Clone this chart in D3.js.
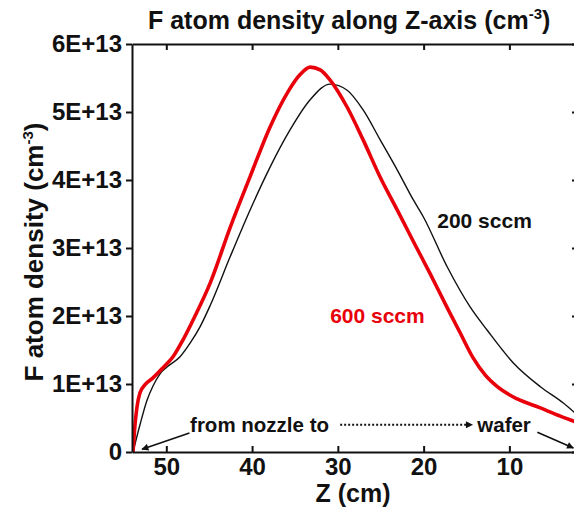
<!DOCTYPE html>
<html>
<head>
<meta charset="utf-8">
<script src="https://cdn.jsdelivr.net/npm/d3@7"></script>
<style>
  html, body { margin: 0; padding: 0; background: #fff; }
  svg { display: block; font-family: "Liberation Sans", Arial, sans-serif; }
</style>
</head>
<body>
<div id="chart"></div>
<script>
// z position (cm) and F atom density (1E+13 cm^-3)
const z200 = [53.88, 53.07, 52.25, 51.55, 50.73, 49.92, 48.40, 47.23, 46.07, 44.90, 42.56, 40.23, 37.90, 35.56, 33.23, 30.90, 28.91, 27.05, 25.06, 23.08, 21.21, 20.04, 17.24, 14.56, 12.58, 9.54, 6.39, 3.71, 1.96];
const n200 = [0, 0.40, 0.76, 0.97, 1.15, 1.25, 1.40, 1.60, 1.84, 2.15, 2.87, 3.56, 4.19, 4.74, 5.18, 5.41, 5.32, 5.03, 4.59, 4.15, 3.71, 3.46, 2.72, 2.13, 1.79, 1.31, 0.96, 0.72, 0.53];

const z600 = [53.88, 53.65, 53.42, 53.07, 52.48, 51.55, 50.38, 49.22, 48.05, 46.65, 44.90, 42.56, 40.23, 37.90, 35.80, 34.40, 33.23, 32.06, 30.90, 28.91, 27.05, 25.06, 23.08, 21.21, 19.23, 17.24, 15.73, 14.21, 12.81, 11.41, 9.08, 6.39, 3.71, 1.96];
const n600 = [0, 0.40, 0.66, 0.87, 0.99, 1.09, 1.24, 1.40, 1.65, 2.00, 2.48, 3.30, 4.05, 4.78, 5.30, 5.55, 5.66, 5.62, 5.47, 5.07, 4.59, 4.04, 3.56, 3.10, 2.62, 2.12, 1.75, 1.38, 1.13, 0.96, 0.78, 0.65, 0.51, 0.43];

const xTicks = [50, 40, 30, 20, 10];
const yTicks = [0, 1, 2, 3, 4, 5, 6];
const yTickLabels = ["0", "1E+13", "2E+13", "3E+13", "4E+13", "5E+13", "6E+13"];

const width = 574;
const height = 508;
const margin = { top: 44, right: -4, bottom: 56, left: 132 };

const svg = d3
  .select("#chart")
  .append("svg")
  .attr("width", width)
  .attr("height", height);

const x = d3.scaleLinear().domain([54, 2]).range([margin.left, width - margin.right]);
const y = d3.scaleLinear().domain([0, 6]).range([height - margin.bottom, margin.top]);

const defs = svg.append("defs");
defs
  .append("clipPath")
  .attr("id", "plot-clip")
  .append("rect")
  .attr("x", margin.left)
  .attr("y", margin.top)
  .attr("width", width - margin.right - margin.left)
  .attr("height", height - margin.bottom - margin.top);

defs
  .append("marker")
  .attr("id", "head")
  .attr("viewBox", "0 0 10 10")
  .attr("refX", 9)
  .attr("refY", 5)
  .attr("markerWidth", 10)
  .attr("markerHeight", 7)
  .attr("markerUnits", "userSpaceOnUse")
  .attr("orient", "auto")
  .append("path")
  .attr("d", "M0,0L10,5L0,10z")
  .attr("fill", "#111");

// curves
const line = d3
  .line()
  .x((d) => x(d[0]))
  .y((d) => y(d[1]))
  .curve(d3.curveMonotoneX);

const plot = svg.append("g").attr("clip-path", "url(#plot-clip)");

plot
  .append("path")
  .datum(z200.map((z, i) => [z, n200[i]]))
  .attr("fill", "none")
  .attr("stroke", "#111")
  .attr("stroke-width", 1.4)
  .attr("d", line);

plot
  .append("path")
  .datum(z600.map((z, i) => [z, n600[i]]))
  .attr("fill", "none")
  .attr("stroke", "#e8000b")
  .attr("stroke-width", 3.6)
  .attr("d", line);

// axes
const tickFont = (g) => {
  g.selectAll("text")
    .attr("font-size", 24)
    .attr("font-weight", "bold")
    .attr("fill", "#111")
    .attr("font-family", "'Liberation Sans', Arial, sans-serif");
  g.selectAll("line, path").attr("stroke", "#111").attr("stroke-width", 2);
};

svg
  .append("g")
  .attr("transform", `translate(0,${y(0)})`)
  .call(d3.axisBottom(x).tickValues(xTicks).tickSize(-6).tickSizeOuter(0).tickPadding(6))
  .call(tickFont);

svg
  .append("g")
  .attr("transform", `translate(0,${y(6)})`)
  .call(d3.axisTop(x).tickValues(xTicks).tickSize(-6).tickSizeOuter(0).tickFormat(""))
  .call(tickFont);

svg
  .append("g")
  .attr("transform", `translate(${x(54)},0)`)
  .call(
    d3.axisLeft(y)
      .tickValues(yTicks)
      .tickSize(6)
      .tickSizeOuter(0)
      .tickPadding(4)
      .tickFormat((d, i) => yTickLabels[i])
  )
  .call(tickFont);

svg
  .append("g")
  .attr("transform", `translate(${x(2)},0)`)
  .call(d3.axisRight(y).tickValues(yTicks).tickSize(-6).tickSizeOuter(0).tickFormat(""))
  .call(tickFont);

// title
const title = svg
  .append("text")
  .attr("x", 148)
  .attr("y", 29)
  .attr("font-size", 25)
  .attr("font-weight", "bold")
  .attr("fill", "#111");
title.append("tspan").text("F atom density along Z-axis (cm");
title.append("tspan").attr("font-size", 15).attr("dy", -10).text("-3");
title.append("tspan").attr("dy", 10).text(")");

// axis labels
svg
  .append("text")
  .attr("x", (x(54) + x(2)) / 2 - 2)
  .attr("y", 502)
  .attr("text-anchor", "middle")
  .attr("font-size", 25)
  .attr("font-weight", "bold")
  .attr("fill", "#111")
  .text("Z (cm)");

const ylab = svg
  .append("text")
  .attr("transform", `translate(43,${(y(0) + y(6)) / 2 + 4}) rotate(-90)`)
  .attr("text-anchor", "middle")
  .attr("font-size", 26)
  .attr("font-weight", "bold")
  .attr("fill", "#111");
ylab.append("tspan").text("F atom density (cm");
ylab.append("tspan").attr("font-size", 15).attr("dy", -10).text("-3");
ylab.append("tspan").attr("dy", 10).text(")");

// series labels
svg
  .append("text")
  .attr("x", x(18.41))
  .attr("y", y(3.29))
  .attr("font-size", 21)
  .attr("font-weight", "bold")
  .attr("fill", "#111")
  .text("200 sccm");

svg
  .append("text")
  .attr("x", x(30.9))
  .attr("y", y(1.9))
  .attr("font-size", 21)
  .attr("font-weight", "bold")
  .attr("fill", "#e8000b")
  .text("600 sccm");

// nozzle → wafer annotation
svg
  .append("text")
  .attr("x", x(47.23))
  .attr("y", y(0.29))
  .attr("font-size", 20.5)
  .attr("font-weight", "bold")
  .attr("fill", "#111")
  .text("from nozzle to");

svg
  .append("text")
  .attr("x", x(13.74))
  .attr("y", y(0.29))
  .attr("font-size", 20.5)
  .attr("font-weight", "bold")
  .attr("fill", "#111")
  .text("wafer");

svg
  .append("line")
  .attr("x1", x(29.73))
  .attr("y1", y(0.40))
  .attr("x2", x(14.33))
  .attr("y2", y(0.40))
  .attr("stroke", "#111")
  .attr("stroke-width", 2)
  .attr("stroke-dasharray", "2,2")
  .attr("marker-end", "url(#head)");

svg
  .append("line")
  .attr("x1", x(47.3))
  .attr("y1", y(0.28))
  .attr("x2", x(52.83))
  .attr("y2", y(0.04))
  .attr("stroke", "#111")
  .attr("stroke-width", 1.6)
  .attr("marker-end", "url(#head)");

svg
  .append("line")
  .attr("x1", x(6.74))
  .attr("y1", y(0.29))
  .attr("x2", x(2.54))
  .attr("y2", y(0.06))
  .attr("stroke", "#111")
  .attr("stroke-width", 1.6)
  .attr("marker-end", "url(#head)");
</script>
</body>
</html>
